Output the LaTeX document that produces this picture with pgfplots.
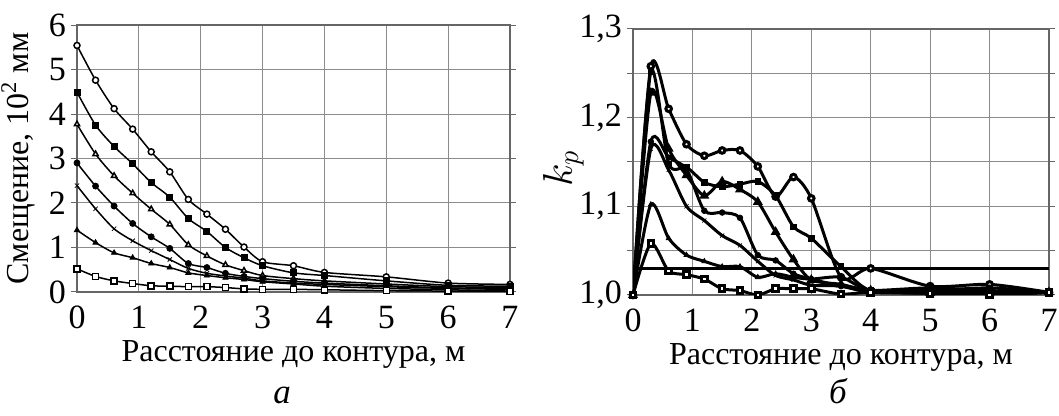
\documentclass[border=0pt]{standalone}
\usepackage{fontspec}
\setmainfont{Liberation Serif}
\usepackage{pgfplots}
\usepackage{pgfplotstable}
\pgfplotsset{compat=1.18}

% left panel: displacement, 10^2 mm
\pgfplotstableread{
x    a    b    c    d    e    f    g
0    5.54 4.49 3.77 2.90 2.39 1.39 0.52
0.3  4.76 3.75 3.10 2.38 1.87 1.11 0.35
0.6  4.12 3.27 2.61 1.93 1.42 0.88 0.25
0.9  3.66 2.88 2.22 1.54 1.15 0.77 0.19
1.2  3.15 2.46 1.86 1.24 0.93 0.64 0.14
1.5  2.70 2.13 1.52 0.98 0.73 0.55 0.13
1.8  2.08 1.65 1.06 0.64 0.53 0.43 0.12
2.1  1.75 1.36 0.81 0.55 0.42 0.37 0.12
2.4  1.41 1.00 0.61 0.42 0.36 0.32 0.10
2.7  1.01 0.77 0.48 0.35 0.31 0.28 0.07
3    0.68 0.59 0.37 0.30 0.25 0.23 0.06
3.5  0.59 0.43 0.30 0.24 0.20 0.18 0.06
4    0.44 0.37 0.25 0.20 0.17 0.13 0.05
5    0.34 0.25 0.18 0.14 0.12 0.08 0.03
6    0.20 0.15 0.12 0.09 0.08 0.05 0.02
7    0.17 0.13 0.10 0.07 0.06 0.02 0.01
}\smeshenie

% right panel: k_p
\pgfplotstableread{
x    a     b     c     d     e     f     g
0    1.000 1.000 1.000 1.000 1.000 1.000 1.000
0.3  1.258 1.252 1.228 1.173 1.165 1.102 1.058
0.6  1.210 1.148 1.165 1.155 1.141 1.064 1.027
0.9  1.170 1.144 1.135 1.142 1.100 1.045 1.023
1.2  1.157 1.127 1.112 1.095 1.084 1.038 1.018
1.5  1.163 1.122 1.128 1.093 1.067 1.032 1.007
1.8  1.163 1.125 1.119 1.087 1.056 1.032 1.005
2.1  1.145 1.128 1.105 1.045 1.038 1.020 1.000
2.4  1.111 1.112 1.071 1.039 1.022 1.024 1.007
2.7  1.133 1.077 1.040 1.024 1.017 1.020 1.007
3    1.109 1.064 1.017 1.018 1.011 1.018 1.007
3.5  1.020 1.032 1.012 1.010 1.010 1.020 1.001
4    1.030 1.005 1.005 1.005 1.003 1.005 1.003
5    1.010 1.005 1.002 1.008 1.002 1.005 1.002
6    1.012 1.003 1.002 1.005 1.000 1.008 1.000
7    1.003 1.003 1.003 1.003 1.003 1.003 1.003
}\kp

\pgfplotsset{
  panel/.style={
    scale only axis,
    anchor=south west,
    xmin=0, xmax=7, xtick={0,...,7},
    grid=both,
    grid style={black!45, line width=0.5pt},
    minor grid style={black!45, line width=0.5pt},
    axis line style={black!60, line width=0.6pt},
    tick style={black!60, line width=0.5pt},
    ytick align=outside, xtick style={draw=none},
    major tick length=3pt, minor tick length=3pt,
    ticklabel style={font=\fontsize{17}{19}\selectfont},
    xticklabel style={yshift=-3.5pt},
    yticklabel style={xshift=1pt},
    label style={font=\fontsize{16}{19}\selectfont},
    xlabel style={at={(axis description cs:0.5,0)}, anchor=base, yshift=-35pt},
    /pgf/number format/assume math mode=true,
    xlabel={Расстояние до контура, м},
    every axis plot/.append style={black, smooth, tension=0.45},
  },
}

\begin{document}
\begin{tikzpicture}
\path[use as bounding box] (0,0) rectangle (529.5pt,208pt);

\begin{axis}[panel,
  at={(38.5pt,62pt)}, width=216.5pt, height=133.5pt,
  ymin=0, ymax=6, ytick={0,...,6},
  ylabel={Смещение, 10\textsuperscript{2} мм},
  ylabel style={yshift=0pt},
  every axis plot/.append style={line width=0.75pt,
    mark size=1.5pt, mark options={solid, line width=0.4pt}},
]
\addplot[mark=*, mark options={fill=white}] table[y=a] {\smeshenie};
\addplot[mark=square*] table[y=b] {\smeshenie};
\addplot[mark=triangle*, mark options={fill=white}] table[y=c] {\smeshenie};
\addplot[mark=*] table[y=d] {\smeshenie};
\addplot[mark=x] table[y=e] {\smeshenie};
\addplot[mark=triangle*] table[y=f] {\smeshenie};
\addplot[mark=square*, mark options={fill=white}] table[y=g] {\smeshenie};
\end{axis}

\begin{axis}[panel,
  at={(316.5pt,60.5pt)}, width=208pt, height=133pt,
  ymin=1, ymax=1.3, ytick={1,1.1,1.2,1.3}, minor ytick={1.05,1.15,1.25},
  yticklabel style={/pgf/number format/.cd, fixed, fixed zerofill,
    precision=1, use comma},
  ylabel={$k_p$},
  ylabel style={font=\fontsize{20}{22}\selectfont, yshift=-9pt, xshift=-3pt},
  every axis plot/.append style={line width=1.5pt,
    mark size=1.4pt, mark options={solid, line width=0.4pt}},
]
\addplot[mark=*, mark options={fill=white}] table[y=a] {\kp};
\addplot[mark=square*] table[y=b] {\kp};
\addplot[mark=triangle*, mark options={fill=white}] table[y=c] {\kp};
\addplot[mark=*] table[y=d] {\kp};
\addplot[mark=x] table[y=e] {\kp};
\addplot[mark=triangle*] table[y=f] {\kp};
\addplot[mark=square*, mark options={fill=white}] table[y=g] {\kp};
\addplot[no marks, sharp plot, line width=1.5pt] coordinates {(0,1.03) (7,1.03)};
\end{axis}

\node[font=\fontsize{17.5}{19}\selectfont\itshape, anchor=base, inner sep=0pt] at (141pt,6pt) {а};
\node[font=\fontsize{17.5}{19}\selectfont\itshape, anchor=base, inner sep=0pt] at (419pt,6pt) {б};
\end{tikzpicture}
\end{document}
